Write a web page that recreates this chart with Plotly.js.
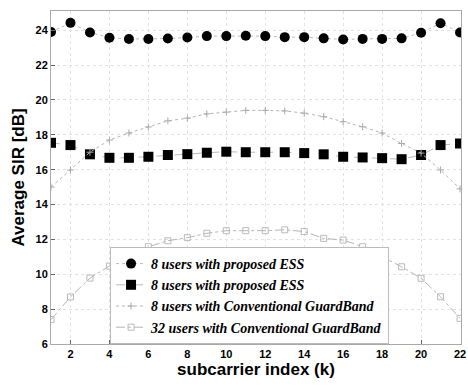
<!DOCTYPE html>
<html>
<head>
<meta charset="utf-8">
<script src="https://cdn.plot.ly/plotly-3.0.1.min.js"></script>
<style>html,body{margin:0;padding:0;background:#fff;}#chart{width:468px;height:387px;}</style>
</head>
<body>
<div id="chart"></div>
<script>
var subcarrier = [1,2,3,4,5,6,7,8,9,10,11,12,13,14,15,16,17,18,19,20,21,22];
var essCircle = [23.9,24.42,23.87,23.57,23.49,23.49,23.52,23.58,23.66,23.66,23.68,23.66,23.6,23.6,23.53,23.47,23.5,23.5,23.53,23.85,24.4,23.87];
var essSquare = [17.54,17.41,16.88,16.68,16.68,16.74,16.84,16.89,16.97,17.03,17.0,17.0,17.0,16.95,16.88,16.74,16.7,16.66,16.6,16.84,17.41,17.5];
var guard8 = [15.0,15.98,17.0,17.7,18.1,18.45,18.8,18.95,19.2,19.3,19.4,19.4,19.37,19.24,19.04,18.75,18.46,18.1,17.5,16.95,15.98,14.9];
var guard32 = [7.4,8.7,9.78,10.47,11.1,11.58,11.92,12.1,12.35,12.5,12.5,12.5,12.55,12.45,12.06,11.96,11.58,11.0,10.43,9.77,8.71,7.47];
var seriesNames = ['8 users with proposed ESS','8 users with proposed ESS','8 users with Conventional GuardBand','32 users with Conventional GuardBand'];
var xTicks = [2,4,6,8,10,12,14,16,18,20,22];
var yTicks = [6,8,10,12,14,16,18,20,22,24];

var traces = [
  {x: subcarrier, y: essCircle, name: seriesNames[0], mode: 'lines+markers', type: 'scatter',
   line: {color: '#bbbbbb', width: 1, dash: 'dot'}, marker: {symbol: 'circle', size: 10, color: '#000'}},
  {x: subcarrier, y: essSquare, name: seriesNames[1], mode: 'lines+markers', type: 'scatter',
   line: {color: '#bbbbbb', width: 1, dash: 'dash'}, marker: {symbol: 'square', size: 10, color: '#000'}},
  {x: subcarrier, y: guard8, name: seriesNames[2], mode: 'lines+markers', type: 'scatter',
   line: {color: '#b5b5b5', width: 1, dash: 'dot'}, marker: {symbol: 'cross-thin-open', size: 5, color: '#aaa', line: {color: '#999', width: 1}}},
  {x: subcarrier, y: guard32, name: seriesNames[3], mode: 'lines+markers', type: 'scatter',
   line: {color: '#b5b5b5', width: 1, dash: 'dashdot'}, marker: {symbol: 'square-open', size: 6, color: '#bbb', line: {color: '#aaa', width: 1}}}
];

var layout = {
  width: 468, height: 387,
  margin: {l: 51, r: 7, t: 11, b: 43},
  paper_bgcolor: '#fff', plot_bgcolor: '#fff',
  showlegend: true,
  xaxis: {
    range: [1, 22.05], tickvals: xTicks, ticktext: xTicks.map(String),
    ticks: 'inside', ticklen: 4, tickcolor: '#666',
    showgrid: true, gridcolor: '#e2e2e2', griddash: 'dot', gridwidth: 1,
    zeroline: false, showline: true, linecolor: '#aaa', linewidth: 1, mirror: true,
    tickfont: {family: 'Liberation Sans, Arial, sans-serif', size: 11, color: '#000', weight: 'bold'},
    title: {text: 'subcarrier index (k)', standoff: 3, font: {family: 'Liberation Sans, Arial, sans-serif', size: 17, color: '#000', weight: 'bold'}}
  },
  yaxis: {
    range: [6, 25.1], tickvals: yTicks, ticktext: yTicks.map(String),
    ticks: 'inside', ticklen: 4, tickcolor: '#666',
    showgrid: true, gridcolor: '#e2e2e2', griddash: 'dot', gridwidth: 1,
    zeroline: false, showline: true, linecolor: '#aaa', linewidth: 1, mirror: true,
    tickfont: {family: 'Liberation Sans, Arial, sans-serif', size: 11, color: '#000', weight: 'bold'},
    title: {text: 'Average SIR [dB]', standoff: 6, font: {family: 'Liberation Sans, Arial, sans-serif', size: 17, color: '#000', weight: 'bold'}}
  },
  legend: {
    x: 0.144, y: 0.0, xanchor: 'left', yanchor: 'bottom',
    bgcolor: 'rgba(255,255,255,1)', bordercolor: '#bbb', borderwidth: 1,
    tracegroupgap: 0, itemwidth: 30,
    font: {family: 'Liberation Serif, Times New Roman, serif', size: 14, color: '#000', weight: 'bold', style: 'italic'}
  }
};

Plotly.newPlot('chart', traces, layout, {displayModeBar: false, staticPlot: true});
</script>
</body>
</html>
